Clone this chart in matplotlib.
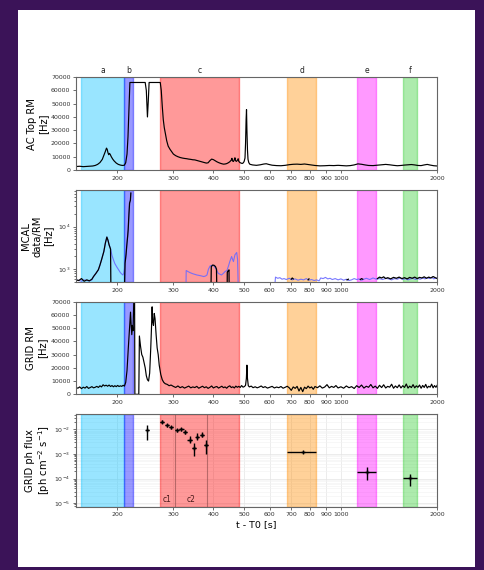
import numpy as np
import matplotlib
matplotlib.use("Agg")
import matplotlib.pyplot as plt
from matplotlib.patches import Rectangle
from matplotlib.ticker import NullLocator

# time intervals (s) marked on every panel
BANDS = [("a", 154, 211, "deepskyblue"), ("b", 211, 224, "blue"), ("c", 273, 481, "red"),
         ("d", 681, 835, "darkorange"), ("e", 1126, 1286, "magenta"), ("f", 1563, 1727, "limegreen")]
XTICKS = [200, 300, 400, 500, 600, 700, 800, 900, 1000, 2000]
XTICK_LABELS = ["200", "300", "400", "500", "600", "700", "800", "900", "1000", "2000"]

# AC Top rate meter
ac_t = [149, 153, 157, 161, 165, 168, 171, 174, 177, 180, 182, 184, 185.5, 186.5, 187.5, 188.5, 189.5,
        190.5, 192, 194, 196, 199, 202, 205, 208, 211, 213, 215, 216.5, 218, 219.5, 225, 235, 245, 247,
        249, 250.5, 252, 260, 273, 275, 277, 279, 281, 283, 286, 289, 293, 297, 300, 305, 310, 315, 320,
        325, 330, 335, 340, 345, 350, 355, 360, 365, 370, 375, 380, 385, 390, 395, 400, 405, 410, 415,
        420, 425, 430, 435, 440, 445, 450, 455, 457, 459, 462, 465, 467, 469, 472, 475, 478, 480, 484,
        488, 492, 496, 499, 502, 504, 506, 507.5, 509, 511, 513, 516, 520, 530, 545, 560, 575, 585, 595,
        610, 630, 650, 670, 690, 710, 730, 750, 770, 790, 810, 830, 860, 890, 920, 950, 980, 1010, 1040,
        1070, 1100, 1130, 1160, 1190, 1220, 1260, 1300, 1340, 1380, 1420, 1460, 1500, 1540, 1580, 1620,
        1660, 1700, 1740, 1780, 1820, 1860, 1900, 1950, 2000]
ac_rate = [2600, 2800, 2500, 2700, 2900, 3000, 3400, 4200, 5600, 8000, 11000, 14000, 16500, 15500, 13000,
           11500, 12500, 11800, 10000, 8200, 6800, 5200, 4200, 3700, 3400, 3600, 5500, 12000, 25000, 45000,
           66000, 66000, 66000, 66000, 60000, 40000, 52000, 66000, 66000, 66000, 60000, 48000, 38000, 32000,
           28000, 22000, 18000, 15500, 13500, 12000, 10800, 10000, 9400, 9000, 8700, 8500, 8200, 8000, 7700,
           7600, 7200, 6800, 6400, 6000, 5600, 5200, 5400, 7000, 8200, 7800, 7000, 6200, 5600, 5100, 4700,
           4400, 4500, 4800, 5400, 6200, 7500, 8800, 6800, 6400, 7800, 9200, 7000, 6500, 7200, 8500, 6500,
           5600, 5200, 4900, 5400, 6500, 9000, 20000, 38000, 45500, 30000, 15000, 8000, 5500, 4300, 3800,
           3500, 3900, 4500, 4700, 4200, 3600, 3300, 3200, 3500, 4000, 4300, 4400, 4200, 4500, 4100, 3700,
           3400, 3100, 3200, 3400, 3300, 3500, 3300, 3100, 3300, 3800, 4600, 4300, 3800, 3400, 3300, 3600,
           3900, 4200, 3900, 3500, 3200, 3400, 3700, 3900, 4100, 3800, 3400, 3300, 3800, 4200, 3700, 3200,
           3000]

# MCAL data / rate meter (log); blue = RM, black = data; nan separates segments
mcal_rm_t = [149, 152, 155, 158, 161, 164, 167, 169, 172, 175, 177, 179, 182, 184, 186, 187.5, 189, 191,
             193, 195, 197, 200, 203, 205, 207, 208.7, 210, 211, 212, 213.5, 214.5, 216, 216.8, 218, 219,
             220.3, 221, np.nan,
             328.5, 329, 333, 338, 345, 355, 365, 373, 378, 382, 386, 391, 396, 400, 406, 410, 414, 419, 424,
             430, 435, 441, 446, 450, 456, 459, 462, 467, 473, 476, 478, np.nan,
             623, 625, 635, 645, 655, 665, 675, 690, 705, 720, 735, 750, 765, 780, 795, 810, 825, 840, 855,
             865, 880, 895, 910, 925, 940, 960, 980, 1000, 1020, 1040, 1060, 1080, 1100, 1120, 1140, 1160,
             1180, 1200, 1230, 1260, 1290, 1320, 1350, 1380, 1410, 1440, 1470, 1500, 1530, 1560, 1590, 1620,
             1650, 1680, 1710, 1740, 1770, 1800, 1830, 1860, 1890, 1920, 1950, 1980, 2000]
mcal_rm = [560, 540, 520, 560, 540, 530, 560, 670, 800, 970, 1250, 1660, 2600, 4100, 5700, 4800, 3750, 2970,
           2100, 1660, 1350, 1110, 930, 830, 770, 730, 800, 1000, 1390, 2200, 3430, 6000, 8500, 20000, 36000,
           42000, 62000, np.nan,
           400, 930, 880, 830, 780, 730, 700, 670, 690, 730, 1000, 1200, 1230, 1220, 1060, 930, 800, 760, 730,
           800, 880, 930, 1200, 1510, 1990, 1700, 1510, 2180, 2470, 1660, 400, np.nan,
           480, 650, 610, 630, 580, 600, 570, 610, 560, 590, 550, 580, 560, 600, 550, 570, 540, 560, 530,
           620, 600, 640, 590, 610, 570, 600, 560, 590, 550, 580, 540, 560, 600, 570, 590, 550, 580, 610,
           570, 620, 580, 600, 570, 610, 590, 560, 600, 580, 620, 570, 600, 560, 590, 610, 570, 600, 580,
           620, 590, 630, 600, 640, 590, 620, 600]
mcal_data_t = [149, 152, 155, 158, 161, 164, 167, 169, 172, 175, 177, 179, 182, 184, 186, 187.5, 189, 191,
               191.5, np.nan, 211, 212, 213.5, 214.5, 216, 216.8, 218, 219, 220.3, 221, np.nan,
               393, 394, 398, 402, 406, 409, 410, np.nan, 441.5, 442, 445, 447.5, 448, np.nan,
               700, 705, 710, np.nan, 790, 795, np.nan, 1045, 1055, np.nan, 1150, 1160, 1170, np.nan,
               1300, 1320, 1340, 1360, 1380, 1400, 1430, 1460, 1490, 1520, 1550, 1580, 1610, 1640, 1670,
               1700, 1730, 1760, 1790, 1820, 1850, 1880, 1910, 1940, 1970, 2000]
mcal_data = [560, 540, 600, 520, 560, 530, 580, 670, 800, 970, 1250, 1660, 2600, 4100, 5700, 4800, 3750,
             2970, 300, np.nan, 300, 1390, 2200, 3430, 6000, 8500, 20000, 36000, 42000, 62000, np.nan,
             300, 1150, 1250, 1230, 1150, 1000, 300, np.nan, 300, 850, 920, 960, 300, np.nan,
             580, 620, 590, np.nan, 560, 590, np.nan, 560, 580, np.nan, 570, 600, 580, np.nan,
             600, 650, 620, 660, 600, 630, 590, 640, 610, 650, 600, 630, 590, 640, 610,
             650, 600, 640, 620, 660, 610, 650, 620, 670, 630, 600]

# GRID rate meter
grid_t = [149, 151, 153, 155, 157, 159, 161, 163, 165, 167, 169, 171, 173, 175, 177, 179, 181, 183, 185,
          187, 189, 191, 193, 195, 197, 199, 201, 203, 205, 207, 209, 211, 213, 215, 217, 219, 220.5, 221.5,
          222.5, 223.5, 224.5, 226, 227, 227.5, 234, 235, 237, 239, 241, 243, 245, 247, 249, 251, 253, 255,
          256.5, 257.5, 258.5, 260, 261.5, 263, 265, 267, 269, 271, 274, 277, 280, 283, 287, 291, 295,
          300, 305, 310, 315, 320, 325, 330, 335, 340, 345, 350, 355, 360, 365, 370, 375, 380, 385, 390,
          395, 400, 405, 410, 415, 420, 425, 430, 435, 440, 445, 450, 455, 460, 465, 470, 475, 480, 485,
          490, 495, 500, 504, 507, 509, 511, 514, 518, 525, 532, 540, 548, 556, 564, 572, 580, 590, 600,
          610, 620, 630, 640, 650, 660, 670, 680, 690, 700, 710, 720, 730, 740, 750, 760, 770, 780, 790,
          800, 810, 820, 830, 845, 860, 875, 890, 905, 920, 935, 950, 965, 980, 1000, 1020, 1040, 1060,
          1080, 1100, 1120, 1140, 1160, 1180, 1200, 1220, 1240, 1260, 1280, 1300, 1320, 1340, 1360, 1380,
          1400, 1420, 1440, 1460, 1480, 1500, 1520, 1540, 1560, 1580, 1600, 1620, 1640, 1660, 1680, 1700,
          1720, 1740, 1760, 1780, 1800, 1820, 1840, 1860, 1880, 1900, 1920, 1940, 1960, 1980, 2000]
grid_rate = [5200, 4600, 5600, 4300, 5400, 4700, 5900, 4500, 5100, 5800, 4900, 5300, 6000, 5200, 6400,
             5600, 7200, 6300, 6900, 6100, 7000, 5900, 6600, 5700, 6500, 5800, 6700, 5900, 6400, 6000, 6800,
             6200, 9000, 18000, 35000, 50000, 62000, 52000, 45000, 52000, 48000, 75000, 75000, 0, 0, 44000,
             36000, 30000, 28000, 24000, 20000, 14000, 11000, 10000, 16000, 35000, 52000, 66000, 55000,
             52000, 61000, 57000, 45000, 35000, 30000, 22000, 15000, 11000, 9000, 8000, 7500, 6500, 7000,
             6000, 5200, 6300, 5000, 5800, 4700, 5500, 6200, 4900, 5600, 5100, 6000, 4600, 5400, 6100, 5000,
             5700, 4500, 5300, 6300, 4800, 5500, 5900, 4700, 5400, 6100, 5000, 5600, 4600, 5800, 6400, 5100,
             5700, 4800, 6200, 5300, 6000, 5200, 6600, 5400, 5900, 6800, 12000, 22000, 12000, 6500, 5600,
             6200, 5000, 5700, 4900, 5500, 6300, 5100, 5800, 4700, 5400, 6000, 4800, 5500, 5000, 5900, 4600,
             5300, 6100, 4900, 3000, 5600, 4500, 6000, 2500, 5200, 2000, 5400, 4300, 6200, 4800, 5600, 3800,
             5900, 5000, 6400, 4700, 5500, 7300, 4900, 6000, 5200, 6600, 4800, 5700, 4600, 6300, 5000, 5800,
             4400, 6500, 5200, 7000, 4700, 6100, 5300, 7400, 4900, 6200, 4500, 6800, 5100, 7200, 4800, 6000,
             5400, 7600, 4600, 6300, 5000, 7100, 4800, 6500, 5200, 7800, 4700, 6200, 5100, 7300, 4900, 6400,
             5300, 7000, 4600, 6700, 5200, 7500, 4800, 6100, 5400, 7700, 4900, 6600, 5300, 7000]

# GRID photon flux light curve
flux_t = [249, 277, 286, 295, 308, 318, 326, 337, 347, 356, 368, 379, 759, 1204, 1641]
flux = [0.0091, 0.021, 0.0150, 0.0124, 0.0092, 0.0100, 0.0078, 0.0038, 0.0017, 0.0049, 0.0062, 0.0024,
        0.00118, 0.00018, 0.000105]
flux_err_lo = [0.0052, 0.003, 0.002, 0.0018, 0.0014, 0.0015, 0.0013, 0.001, 0.0009, 0.0013, 0.0014,
               0.0014, 0.00012, 0.00009, 0.000056]
flux_err_hi = [0.0068, 0.003, 0.002, 0.0018, 0.0016, 0.0017, 0.0015, 0.0014, 0.0011, 0.0022, 0.002,
               0.0014, 0.00015, 0.00011, 0.000052]
flux_t_lo = [3, 4, 4, 4, 5, 5, 4, 5, 5, 4, 5, 5, 78, 78, 78]
flux_t_hi = [3, 4, 4, 4, 5, 5, 4, 5, 5, 4, 5, 5, 76, 82, 86]
SUB_LINES = [303, 382]
SUB_LABELS = [("c1", 286), ("c2", 341)]

BG = "#3b1358"
TICK_FS = 4.5
LABEL_FS = 7.2


def style_ax(ax, label_x, ylabel):
    ax.set_xscale("log")
    ax.set_xlim(149, 2000)
    ax.set_xticks(XTICKS)
    ax.set_xticklabels(XTICK_LABELS)
    ax.xaxis.set_minor_locator(NullLocator())
    ax.tick_params(labelsize=TICK_FS, length=2, width=0.5, pad=2, colors="#333333")
    ax.tick_params(which="minor", length=1.2, width=0.4)
    for sp in ax.spines.values():
        sp.set_color("#666666")
        sp.set_linewidth(0.8)
    for _, lo, hi, c in BANDS:
        ax.axvspan(lo, hi, color=c, alpha=0.4, zorder=0.8)
    ax.set_ylabel(ylabel, fontsize=LABEL_FS, linespacing=1.1)
    ax.yaxis.set_label_coords(label_x, 0.5)


fig = plt.figure(figsize=(4.85, 5.7), dpi=100, facecolor=BG)
fig.patches.append(Rectangle((0.0371, 0.0053), 0.9423, 0.977, transform=fig.transFigure,
                             facecolor="white", edgecolor="none", zorder=-10))

L, W, H = 0.1567, 0.745, 0.1628
ax1 = fig.add_axes([L, 0.7018, W, H])
ax2 = fig.add_axes([L, 0.5047, W, H])
ax3 = fig.add_axes([L, 0.3082, W, H])
ax4 = fig.add_axes([L, 0.1111, W, H])

# panel 1
style_ax(ax1, -0.0775, "AC Top RM\n[Hz]")
ax1.plot(ac_t, ac_rate, color="black", lw=0.85)
ax1.set_ylim(0, 70000)
ax1.set_yticks(range(0, 70001, 10000))
for name, lo, hi, _ in BANDS:
    ax1.text(np.sqrt(lo * hi), 1.025, name, transform=ax1.get_xaxis_transform(),
             ha="center", va="bottom", fontsize=5.5, color="#222222")

# panel 2
style_ax(ax2, -0.064, "MCAL\ndata/RM\n[Hz]")
ax2.set_yscale("log")
ax2.plot(mcal_rm_t, mcal_rm, color="#6a6aff", lw=0.8, alpha=0.9)
ax2.plot(mcal_data_t, mcal_data, color="black", lw=0.9)
ax2.set_ylim(490, 75000)

# panel 3
style_ax(ax3, -0.080, "GRID RM\n[Hz]")
ax3.plot(grid_t, grid_rate, color="black", lw=0.85)
ax3.set_ylim(0, 70000)
ax3.set_yticks(range(0, 70001, 10000))

# panel 4
style_ax(ax4, -0.066, "GRID ph flux\n[ph cm$^{-2}$ s$^{-1}$]")
ax4.set_yscale("log")
ax4.set_ylim(7.3e-6, 4.3e-2)
ax4.grid(True, which="major", color="#e4e4e4", lw=0.5, zorder=0.5)
ax4.grid(True, which="minor", axis="y", color="#f2f2f2", lw=0.4, zorder=0.5)
ax4.set_axisbelow(True)
for x in SUB_LINES:
    ax4.axvline(x, color="#8a4a4a", lw=0.8, alpha=0.6)
for name, x in SUB_LABELS:
    ax4.text(x, 1.45e-5, name, ha="center", va="center", fontsize=5.5, color="#4a1a1a")
ax4.errorbar(flux_t, flux, yerr=[flux_err_lo, flux_err_hi], xerr=[flux_t_lo, flux_t_hi],
             fmt="k+", ms=3, elinewidth=1.0, capsize=0, zorder=3)
ax4.set_xlabel("t - T0 [s]", fontsize=6.8, labelpad=2)

fig.savefig("out.png", dpi=100, facecolor=BG)
